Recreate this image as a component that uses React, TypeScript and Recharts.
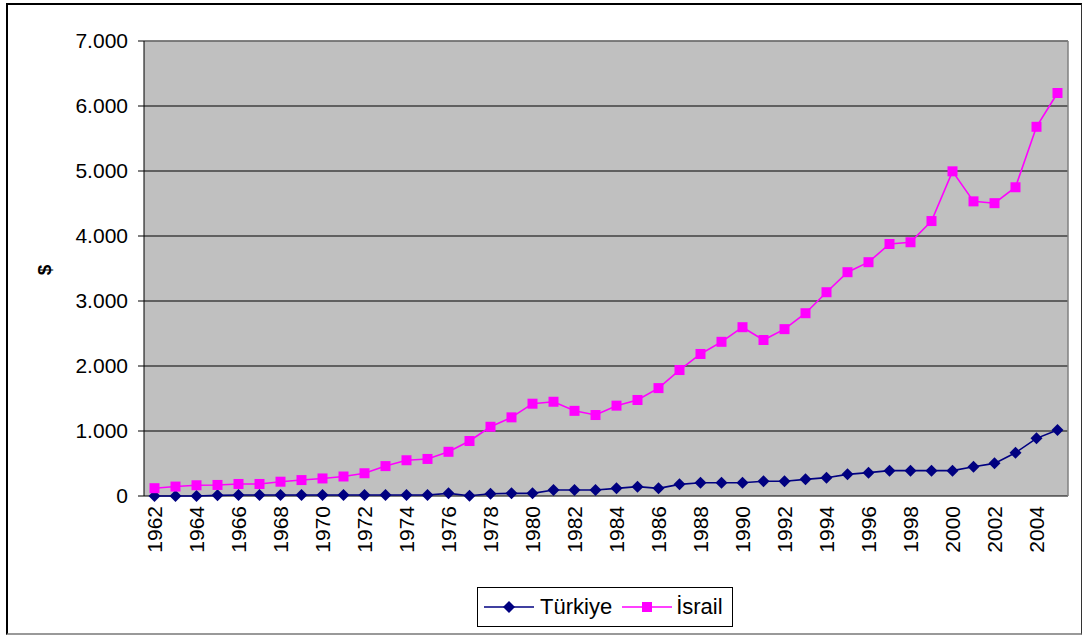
import React from "react";
import {
  LineChart,
  Line,
  XAxis,
  YAxis,
  CartesianGrid,
  ReferenceLine,
} from "recharts";

const years = [
  1962, 1963, 1964, 1965, 1966, 1967, 1968, 1969, 1970, 1971, 1972, 1973, 1974,
  1975, 1976, 1977, 1978, 1979, 1980, 1981, 1982, 1983, 1984, 1985, 1986, 1987,
  1988, 1989, 1990, 1991, 1992, 1993, 1994, 1995, 1996, 1997, 1998, 1999, 2000,
  2001, 2002, 2003, 2004, 2005,
];

const turkiye = [
  0, 0, 0, 10, 15, 15, 15, 15, 15, 15, 15, 15, 15, 15, 41, 5, 35, 41, 41, 92,
  92, 92, 118, 144, 118, 179, 205, 205, 205, 226, 226, 256, 282, 333, 359, 390,
  390, 390, 390, 451, 502, 666, 887, 1015,
];

const israil = [
  120, 145, 165, 170, 185, 185, 220, 245, 270, 300, 350, 460, 550, 570, 680,
  846, 1065, 1210, 1420, 1450, 1310, 1246, 1390, 1477, 1660, 1938, 2185, 2372,
  2597, 2400, 2567, 2812, 3135, 3443, 3597, 3877, 3904, 4230, 4995, 4533, 4505,
  4750, 5680, 6200,
];

const yTicks = [0, 1000, 2000, 3000, 4000, 5000, 6000, 7000];
const labelYears = years.filter((y) => (y - 1962) % 2 === 0);
const boundaryTicks = [...years.map((y) => y - 0.5), 2005.5];

const data = years.map((year, i) => ({
  year,
  tr: turkiye[i],
  il: israil[i],
}));

const font = '"Liberation Sans", Arial, sans-serif';

const fmt = (v: number) => (v === 0 ? "0" : `${v / 1000}.000`);

const Diamond = (p: any) => {
  const { cx, cy, index } = p;
  if (cx == null || cy == null) return null;
  return (
    <path
      key={`d${index}`}
      d={`M${cx},${cy - 6}L${cx + 6},${cy}L${cx},${cy + 6}L${cx - 6},${cy}Z`}
      fill="#000080"
    />
  );
};

const Square = (p: any) => {
  const { cx, cy, index } = p;
  if (cx == null || cy == null) return null;
  return (
    <rect key={`s${index}`} x={cx - 5} y={cy - 5} width={10} height={10} fill="#ff00ff" />
  );
};

const YearTick = (p: any) => {
  const { x, y, payload } = p;
  return (
    <g transform={`translate(${x},${y})`}>
      <text
        transform="rotate(-90)"
        x={-10}
        y={0}
        dy="0.36em"
        textAnchor="end"
        fontSize={21}
        fontFamily={font}
        fill="#000"
      >
        {payload.value}
      </text>
    </g>
  );
};

export default function App() {
  return (
    <div style={{ position: "relative", width: 1083, height: 635, fontFamily: font }}>
      <style>{"body{margin:0}"}</style>
      <div
        style={{
          position: "absolute",
          left: 6,
          top: 3,
          width: 1073,
          height: 628,
          borderLeft: "2px solid #000",
          borderTop: "2px solid #000",
          borderRight: "1px solid #333",
          borderBottom: "2px solid #999",
        }}
      />
      <LineChart
        width={1083}
        height={635}
        data={data}
        margin={{ top: 41, right: 15, left: 84, bottom: 79 }}
      >
        <CartesianGrid fill="#c0c0c0" fillOpacity={1} stroke="#000" strokeWidth={1} vertical={false} />
        <XAxis
          dataKey="year"
          type="number"
          domain={[1961.5, 2005.5]}
          ticks={boundaryTicks}
          tickFormatter={() => ""}
          height={0}
          tickSize={6}
          stroke="#000"
          interval={0}
        />
        <XAxis
          xAxisId="lab"
          dataKey="year"
          type="number"
          domain={[1961.5, 2005.5]}
          ticks={labelYears}
          interval={0}
          height={60}
          axisLine={false}
          tickLine={false}
          tickSize={0}
          tickMargin={0}
          tick={<YearTick />}
        />
        <YAxis
          domain={[0, 7000]}
          ticks={yTicks}
          interval={0}
          width={60}
          tickSize={6}
          tickMargin={10}
          stroke="#000"
          tickFormatter={fmt}
          tick={{ fill: "#000", fontSize: 21, fontFamily: font }}
        />
        <ReferenceLine y={7000} stroke="#808080" strokeWidth={1.5} />
        <ReferenceLine x={2005.5} stroke="#808080" strokeWidth={1.5} />
        <Line
          dataKey="tr"
          name="Türkiye"
          stroke="#000080"
          strokeWidth={1.6}
          dot={<Diamond />}
          isAnimationActive={false}
        />
        <Line
          dataKey="il"
          name="İsrail"
          stroke="#ff00ff"
          strokeWidth={1.6}
          dot={<Square />}
          isAnimationActive={false}
        />
      </LineChart>
      <div
        style={{
          position: "absolute",
          left: 45,
          top: 270,
          transform: "translate(-50%,-50%) rotate(-90deg)",
          fontSize: 19,
          fontWeight: "bold",
        }}
      >
        $
      </div>
      <div
        style={{
          position: "absolute",
          left: 477,
          top: 587,
          width: 256,
          height: 40,
          border: "1px solid #000",
          background: "#fff",
          display: "flex",
          alignItems: "center",
          fontSize: 22,
          boxSizing: "border-box",
        }}
      >
        <svg width={56} height={14} style={{ marginLeft: 6 }}>
          <line x1={0} y1={7} x2={50} y2={7} stroke="#000080" strokeWidth={1.6} />
          <path d="M25,1L31,7L25,13L19,7Z" fill="#000080" />
        </svg>
        <span>Türkiye</span>
        <svg width={56} height={14} style={{ marginLeft: 8 }}>
          <line x1={2} y1={7} x2={52} y2={7} stroke="#ff00ff" strokeWidth={1.6} />
          <rect x={22} y={2} width={10} height={10} fill="#ff00ff" />
        </svg>
        <span>İsrail</span>
      </div>
    </div>
  );
}
